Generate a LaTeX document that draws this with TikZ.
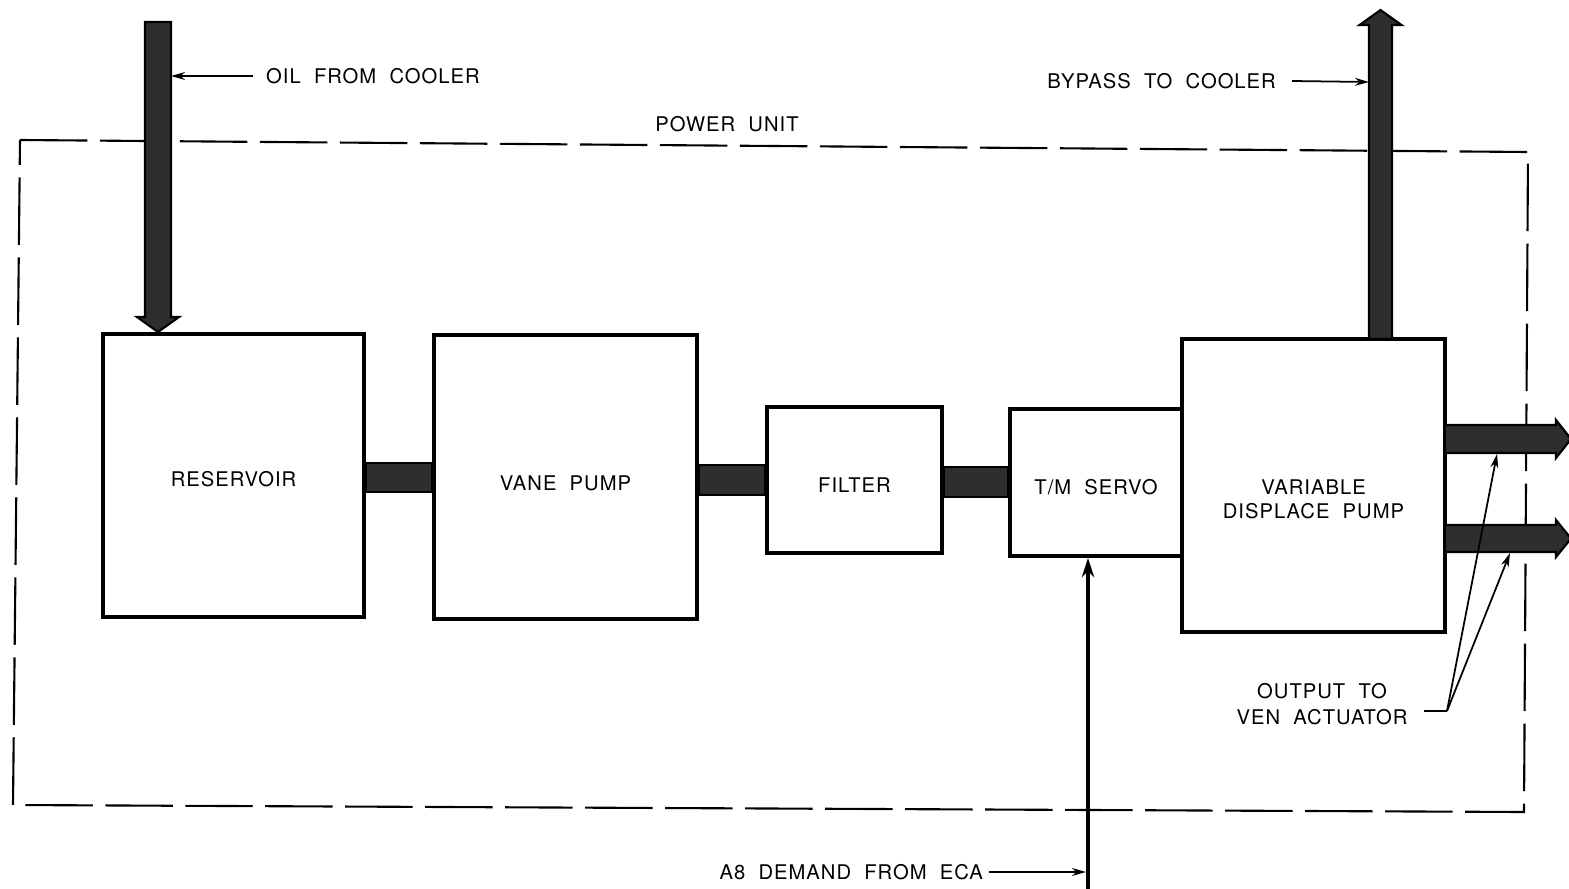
\documentclass[tikz,border=0pt]{standalone}
\usepackage{fontspec}
\setmainfont{TeX Gyre Heros}
\newfontfamily\labelfont[LetterSpace=5,WordSpace=2]{TeX Gyre Heros}
\usetikzlibrary{arrows.meta}

\tikzset{
  blockbox/.style={draw, line width=2.2pt, inner sep=0pt, align=center},
  pipe/.style={fill=black!82, draw=black, line width=1.2pt},
  leader/.style={line width=1pt, -{Stealth[length=8pt,width=4.5pt]}},
  unitline/.style={line width=1.2pt, dash pattern=on 1.35cm off 0.25cm},
}

\begin{document}
\begin{tikzpicture}[x=0.02cm, y=-0.02cm, every node/.style={font=\labelfont\fontsize{11.5}{14}\selectfont}]
	\useasboundingbox (0,0) rectangle (1569,889);
	% power unit frame
	\draw[unitline] (20,140) -- (1528,152) -- (1524,812) -- (13,805) -- cycle;
	\node (unit) at (727,124) {POWER UNIT};
	% blocks
	\node[blockbox, minimum width=5.22cm, minimum height=5.66cm, text height=12.3pt] (res) at (233.5,475.5) {RESERVOIR};
	\node[blockbox, minimum width=5.26cm, minimum height=5.68cm, text height=15.1pt] (vane) at (565.5,477) {VANE PUMP};
	\node[blockbox, minimum width=3.5cm, minimum height=2.92cm, text height=14pt] (filter) at (854.5,480) {FILTER};
	\node[blockbox, minimum width=3.44cm, minimum height=2.94cm, text height=13.5pt] (servo) at (1096,482.5) {T/M SERVO};
	\node[blockbox, minimum width=5.26cm, minimum height=5.86cm] (vdp) at (1313.5,485.5) {};
	\node[align=center, font=\labelfont\fontsize{11.5}{13.7}\selectfont] (vdpText) at ([yshift=-0.27cm]vdp.center) {VARIABLE\\DISPLACE PUMP};
	% pipes between blocks
	\draw[pipe] (res.east |- 0,463) rectangle (vane.west |- 0,492);
	\draw[pipe] (vane.east |- 0,465) rectangle (filter.west |- 0,495);
	\draw[pipe] (filter.east |- 0,467) rectangle (servo.west |- 0,497);
	% oil in and bypass
	\coordinate (oilTip) at (158,332);
	\draw[pipe] (oilTip) -- ++(21,-15) -- ++(-8,0) -- ++(0,-295) -- ++(-26,0) -- ++(0,295) -- ++(-8,0) -- cycle;
	\coordinate (bypTip) at (1380.5,10);
	\draw[pipe] (bypTip) -- ++(21,15) -- ++(-9.5,0) -- ++(0,314) -- ++(-23,0) -- ++(0,-314) -- ++(-9.5,0) -- cycle;
	% outputs
	\draw[pipe] (1445,425) -- (1556,425) -- (1556,420) -- (1571,439) -- (1556,458) -- (1556,453) -- (1445,453) -- cycle;
	\draw[pipe] (1445,525) -- (1556,525) -- (1556,520) -- (1571,538.5) -- (1556,557) -- (1556,552) -- (1445,552) -- cycle;
	% labels and leaders
	\node[anchor=west] (oil) at (260,76) {OIL FROM COOLER};
	\coordinate (oilIn) at (171,76);
	\draw[leader] ([xshift=-0.14cm]oil.west) -- (oilIn);
	\node[anchor=east] (bypass) at (1282,81) {BYPASS TO COOLER};
	\coordinate (bypIn) at (1369,82);
	\draw[leader] ([xshift=0.2cm]bypass.east) -- (bypIn);
	\node[anchor=east] (a8) at (989,872) {A8 DEMAND FROM ECA};
	\coordinate (ecaIn) at (1088,889);
	\draw[line width=2pt, -{Stealth[length=11pt,width=7pt]}] (ecaIn) -- (ecaIn |- servo.south);
	\draw[leader] (a8.east) -- (1086,872);
	\node[align=center, font=\labelfont\fontsize{11.5}{14.8}\selectfont] (ven) at (1322,704) {OUTPUT TO\\VEN ACTUATOR};
	\coordinate (venK) at (1447,711);
	\coordinate (outTop) at (1497,454);
	\coordinate (outLow) at (1510,553);
	\draw[line width=1pt] ([xshift=0.2cm]ven.east |- venK) -- (venK);
	\draw[leader] (venK) -- (outTop);
	\draw[leader] (venK) -- (outLow);
\end{tikzpicture}
\end{document}
